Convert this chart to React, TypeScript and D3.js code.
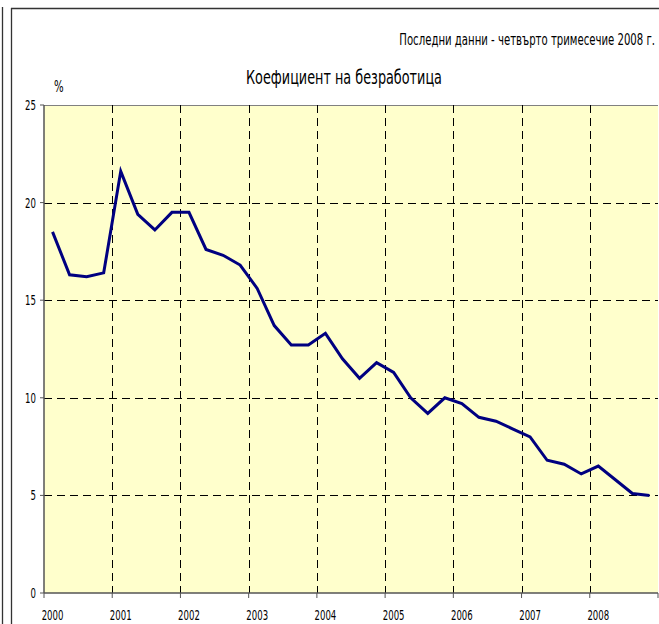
import React, { useLayoutEffect, useRef, useState } from "react";
import * as d3 from "d3";

// quarterly unemployment rate, 2000 Q1 .. 2008 Q4
const years = ["2000", "2001", "2002", "2003", "2004", "2005", "2006", "2007", "2008"];
const quarters = ["I", "II", "III", "IV"];
const rate = [
  18.5, 16.3, 16.2, 16.4,
  21.6, 19.4, 18.6, 19.5,
  19.5, 17.6, 17.3, 16.8,
  15.6, 13.7, 12.7, 12.7,
  13.3, 12.0, 11.0, 11.8,
  11.3, 10.0, 9.2, 10.0,
  9.7, 9.0, 8.8, 8.4,
  8.0, 6.8, 6.6, 6.1,
  6.5, 5.8, 5.1, 5.0,
];
const yTicks = [0, 5, 10, 15, 20, 25];
const title = "Коефициент на безработица";
const subtitle = "Последни данни - четвърто тримесечие 2008 г.";

const width = 659,
  height = 624;
const margin = { left: 44, right: 1, top: 105, bottom: 31 };
const font = "'DejaVu Sans Condensed', 'Liberation Sans Narrow', Tahoma, sans-serif";

// text squeezed horizontally, either to a target width or by a fixed factor
function Txt({ x, y, anchor = "start", size, w, sx, children }: any) {
  const ref = useRef<SVGTextElement>(null);
  const [k, setK] = useState(sx || 1);
  useLayoutEffect(() => {
    if (w && ref.current) {
      const len = ref.current.getComputedTextLength();
      if (len > 0) setK(w / len);
    }
  }, [w]);
  return (
    <g transform={`translate(${x},${y}) scale(${k},1)`}>
      <text ref={ref} textAnchor={anchor} fontSize={size} fill="#000">
        {children}
      </text>
    </g>
  );
}

export default function App() {
  const cats = years.flatMap((y) => quarters.map((q) => y + "-" + q));

  const x = d3
    .scaleBand()
    .domain(cats)
    .range([margin.left, width - margin.right])
    .padding(0);

  const y = d3
    .scaleLinear()
    .domain([0, 25])
    .range([height - margin.bottom, margin.top]);

  const line = d3
    .line<number>()
    .x((d, i) => x(cats[i])! + x.bandwidth() / 2)
    .y((d) => y(d));

  const yearX = years.map((yr) => x(yr + "-I")!);
  const x0 = margin.left,
    x1 = width - margin.right;
  const y0 = y(0),
    y1 = y(25);

  return (
    <div style={{ position: "absolute", left: 0, top: 0 }}>
      <svg width={width} height={height} style={{ display: "block", fontFamily: font }}>
        <rect width={width} height={height} fill="#fff" />
        {/* outer frames */}
        <line x1={2.5} x2={2.5} y1={7} y2={height} stroke="#333" strokeWidth={1.3} />
        <line x1={11.5} x2={11.5} y1={8} y2={height} stroke="#333" strokeWidth={1.3} />
        <line x1={11} x2={width} y1={8.5} y2={8.5} stroke="#333" strokeWidth={1.3} />

        <Txt x={655} y={45} anchor="end" size={15} w={256}>
          {subtitle}
        </Txt>
        <Txt x={344} y={84} anchor="middle" size={20} w={196}>
          {title}
        </Txt>
        <Txt x={58.7} y={92} anchor="middle" size={15} sx={0.75}>
          %
        </Txt>

        {/* plot area */}
        <rect x={x0} y={y1} width={x1 - x0} height={y0 - y1} fill="#ffffcc" />
        <line x1={x0} x2={x1} y1={y1 + 0.5} y2={y1 + 0.5} stroke="#808080" />

        {/* grid */}
        {yTicks
          .filter((t) => t > 0 && t < 25)
          .map((t) => (
            <line
              key={"gy" + t}
              x1={x0}
              x2={x1}
              y1={Math.round(y(t)) + 0.5}
              y2={Math.round(y(t)) + 0.5}
              stroke="#000"
              strokeDasharray="8,5"
            />
          ))}
        {yearX.slice(1).map((px, i) => (
          <line
            key={"gx" + i}
            x1={Math.round(px) + 0.5}
            x2={Math.round(px) + 0.5}
            y1={y1}
            y2={y0}
            stroke="#000"
            strokeDasharray="8,5"
          />
        ))}

        {/* axes */}
        <line x1={x0} x2={x0} y1={y1} y2={y0} stroke="#555" strokeWidth={1.5} />
        <line x1={x0} x2={x1} y1={y0} y2={y0} stroke="#555" strokeWidth={1.5} />
        {yTicks.map((t) => (
          <g key={"yt" + t}>
            <line x1={x0 - 4} x2={x0} y1={y(t)} y2={y(t)} stroke="#555" />
            <Txt x={36} y={y(t) + 5} anchor="end" size={14} sx={0.68}>
              {t}
            </Txt>
          </g>
        ))}
        {[...yearX, x1].map((px, i) => (
          <line
            key={"xt" + i}
            x1={px}
            x2={px}
            y1={y0}
            y2={y0 + 5}
            stroke="#555"
          />
        ))}
        {years.map((yr) => (
          <Txt
            key={"xl" + yr}
            x={x(yr + "-I")! + x.bandwidth() / 2}
            y={y0 + 27}
            anchor="middle"
            size={14}
            sx={0.68}
          >
            {yr}
          </Txt>
        ))}

        {/* series */}
        <path
          d={line(rate)!}
          fill="none"
          stroke="#000080"
          strokeWidth={3}
          strokeLinejoin="miter"
        />
      </svg>
    </div>
  );
}
